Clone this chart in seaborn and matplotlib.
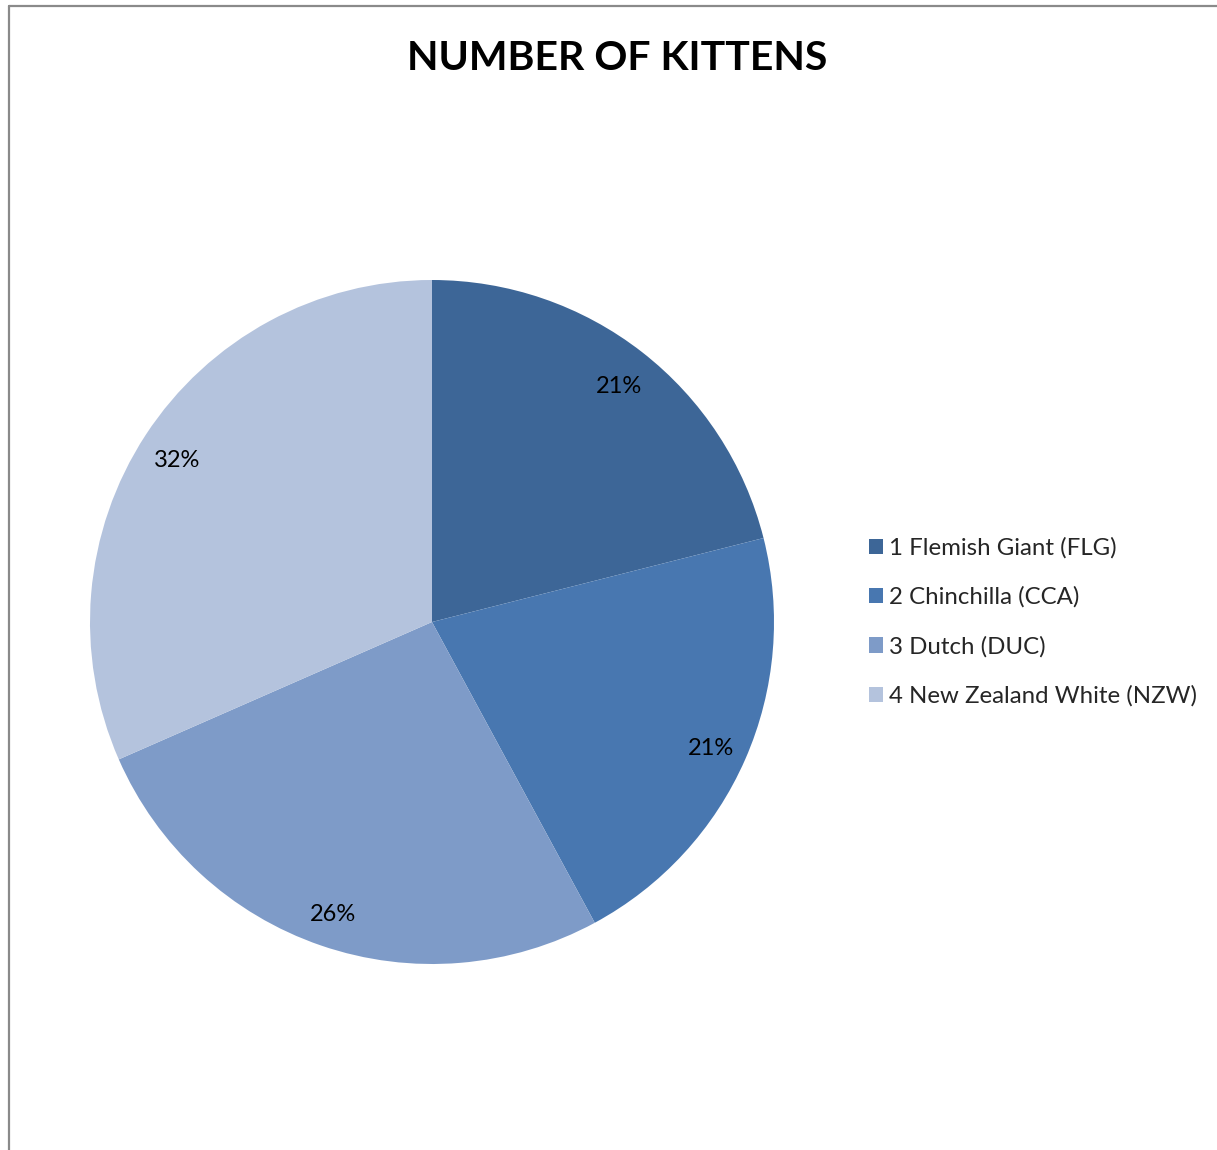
import matplotlib
matplotlib.use("Agg")
import matplotlib.pyplot as plt
from matplotlib.lines import Line2D
from matplotlib.patches import Patch
from matplotlib.transforms import ScaledTranslation
import seaborn as sns

# Kitten counts per breed
breeds = ["1 Flemish Giant (FLG)", "2 Chinchilla (CCA)", "3 Dutch (DUC)",
          "4 New Zealand White (NZW)"]
kittens = [20, 20, 25, 30]
colors = ["#3D6697", "#4877B0", "#7E9BC8", "#B4C3DD"]

sns.set_theme(style="white")
plt.rcParams["font.family"] = ["Lato", "DejaVu Sans"]

W, H = 1217, 1150
fig = plt.figure(figsize=(W / 100, H / 100), dpi=100)
fig.patch.set_facecolor("white")

cx, cy, r = 432, 622, 342
ax = fig.add_axes([(cx - r) / W, (H - cy - r) / H, 2 * r / W, 2 * r / H])
wedges, _, autotexts = ax.pie(
    kittens, colors=colors, startangle=90, counterclock=False, radius=1,
    autopct="%1.0f%%", pctdistance=0.89,
    wedgeprops=dict(linewidth=0),
    textprops=dict(fontsize=17, color="black"),
)
# nudge percentage labels slightly downward
for t in autotexts:
    t.set_transform(t.get_transform() + ScaledTranslation(0, -0.045, fig.dpi_scale_trans))
ax.set_xlim(-1, 1)
ax.set_ylim(-1, 1)
ax.set_aspect("equal")
ax.axis("off")

fig.text(617 / W, 1 - 58 / H, "NUMBER OF KITTENS", ha="center", va="center",
         fontsize=29.5, fontweight="bold", color="black")

handles = [Patch(facecolor=c, edgecolor="none") for c in colors]
leg = fig.legend(handles, breeds, loc="center left",
                 bbox_to_anchor=(869 / W, 1 - 622 / H),
                 frameon=False, fontsize=17.3, handlelength=0.6, handleheight=0.6,
                 handletextpad=0.25, labelspacing=1.16, borderaxespad=0,
                 borderpad=0)

# chart frame edges
fig.add_artist(Line2D([8.5 / W, 8.5 / W], [0, 1 - 6 / H], color="#8a8a8a", lw=1.6))
fig.add_artist(Line2D([8.5 / W, 1], [1 - 6 / H, 1 - 6 / H], color="#8a8a8a", lw=1.6))

fig.savefig("out.png", dpi=100, facecolor="white")
